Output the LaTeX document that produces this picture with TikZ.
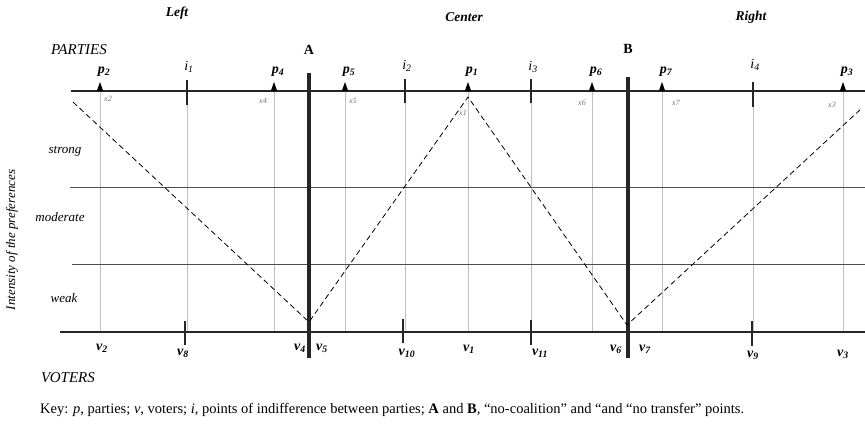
\documentclass[tikz,border=0pt]{standalone}
\usepackage{fontspec}
\setmainfont{Liberation Serif}
\begin{document}
\begin{tikzpicture}[x=1pt,y=-1pt,
  axisline/.style={line width=2.2pt, black!85},
  barrier/.style={line width=3.2pt, black!85},
  tickline/.style={line width=1.8pt, black!85},
  guide/.style={black!25, line width=0.5pt},
  level/.style={black!70, line width=0.8pt},
  pref/.style={dash pattern=on 5.5pt off 3.5pt, line width=0.8pt},
  partytri/.style={fill=black},
  head/.style={font=\fontsize{13.5}{15}\selectfont\bfseries\itshape},
  plab/.style={font=\fontsize{14}{15}\selectfont\bfseries\itshape, inner sep=0pt},
  ilab/.style={font=\fontsize{14}{15}\selectfont\itshape, inner sep=0pt},
  xlab/.style={font=\fontsize{8}{9}\selectfont\itshape, text=black!55, inner sep=0pt},
  side/.style={font=\fontsize{13}{15}\selectfont\itshape, inner sep=0pt},
  plain/.style={font=\fontsize{14.5}{16}\selectfont, inner sep=0pt}
]
\useasboundingbox (0,0) rectangle (865,426);

% positions
\foreach \n/\x in {p2/100, i1/187, p4/274, p5/345, i2/405, p1/468, i3/531, p6/592, p7/662, i4/753, p3/843} {
  \coordinate (t\n) at (\x,91);
  \coordinate (b\n) at (\x,332);
}

% headings
\node[head] (left) at (177,13) {Left};
\node[head] (center) at (464,17) {Center};
\node[head] (right) at (751,17) {Right};
\node[side, font=\fontsize{15}{16}\selectfont\itshape] (parties) at (79,50) {PARTIES};
\node[side, font=\fontsize{15}{16}\selectfont\itshape] (voters) at (68,378) {VOTERS};
\node[plain, font=\fontsize{14}{15}\selectfont\bfseries] (labA) at (309,50) {A};
\node[plain, font=\fontsize{14}{15}\selectfont\bfseries] (labB) at (628,49) {B};

% guides
\foreach \n in {p2,i1,p4,p5,i2,p1,i3,p6,p7,i4,p3} {
  \draw[guide] (t\n) -- (b\n);
}

% levels
\coordinate (l1a) at (70,187);  \coordinate (l1b) at (865,187);
\coordinate (l2a) at (72,264);  \coordinate (l2b) at (865,264);
\draw[level] (l1a) -- (l1b);
\draw[level] (l2a) -- (l2b);

% axes
\coordinate (topL) at (71,91);  \coordinate (topR) at (865,91);
\coordinate (botL) at (60,332); \coordinate (botR) at (865,332);
\draw[axisline] (topL) -- (topR);
\draw[axisline] (botL) -- (botR);

% barriers A and B
\coordinate (Atop) at (309,73); \coordinate (Abot) at (309,358);
\coordinate (Btop) at (628,77); \coordinate (Bbot) at (628,358);
\draw[barrier] (Atop) -- (Abot);
\draw[barrier] (Btop) -- (Bbot);

% indifference ticks (top)
\draw[tickline] ([yshift=11pt]ti1) -- ([yshift=-14pt]ti1);
\draw[tickline] ([yshift=12pt]ti2) -- ([yshift=-12pt]ti2);
\draw[tickline] ([yshift=12pt]ti3) -- ([yshift=-12pt]ti3);
\draw[tickline] ([yshift=9pt]ti4) -- ([yshift=-16pt]ti4);

% voter ticks (bottom)
\coordinate (v8) at (185,332); \coordinate (v10) at (403,332);
\coordinate (v11) at (531,332); \coordinate (v9) at (752,332);
\draw[tickline] ([yshift=11pt]v8) -- ([yshift=-13pt]v8);
\draw[tickline] ([yshift=13pt]v10) -- ([yshift=-11pt]v10);
\draw[tickline] ([yshift=12pt]v11) -- ([yshift=-13pt]v11);
\draw[tickline] ([yshift=11pt]v9) -- ([yshift=-14pt]v9);

% party triangles
\foreach \n in {p2,p4,p5,p1,p6,p7,p3} {
  \fill[partytri] ([xshift=-3.2pt]t\n) -- ([yshift=9pt]t\n) -- ([xshift=3.2pt]t\n) -- cycle;
}

% preference lines
\coordinate (d1) at (73,102);
\coordinate (dA) at (309,322);
\coordinate (dP) at (468,97);
\coordinate (dB) at (627,325);
\coordinate (d5) at (862,108);
\draw[pref] (d1) -- (dA) -- (dP) -- (dB) -- (d5);

% top labels
\node[plab] (Lp2) at (104,72) {p\textsubscript{2}};
\node[ilab] (Li1) at (189,67) {i\textsubscript{1}};
\node[plab] (Lp4) at (278,72) {p\textsubscript{4}};
\node[plab] (Lp5) at (349,72) {p\textsubscript{5}};
\node[ilab] (Li2) at (407,66) {i\textsubscript{2}};
\node[plab] (Lp1) at (472,72) {p\textsubscript{1}};
\node[ilab] (Li3) at (533,67) {i\textsubscript{3}};
\node[plab] (Lp6) at (596,72) {p\textsubscript{6}};
\node[plab] (Lp7) at (666,72) {p\textsubscript{7}};
\node[ilab] (Li4) at (755,65) {i\textsubscript{4}};
\node[plab] (Lp3) at (847,72) {p\textsubscript{3}};

% x labels
\node[xlab] (x2) at (108,99) {x2};
\node[xlab] (x4) at (263,101) {x4};
\node[xlab] (x5) at (353,101) {x5};
\node[xlab] (x1) at (463,113) {x1};
\node[xlab] (x6) at (582,103) {x6};
\node[xlab] (x7) at (676,103) {x7};
\node[xlab] (x3) at (832,105) {x3};

% level labels
\node[side] (strong) at (65,151) {strong};
\node[side] (moderate) at (60,217) {moderate};
\node[side] (weak) at (64,298) {weak};
\node[side, rotate=90] (intensity) at (12,240) {Intensity of the preferences};

% voter labels
\node[plab] (Lv2) at (102,348) {v\textsubscript{2}};
\node[plab] (Lv8) at (183,353) {v\textsubscript{8}};
\node[plab] (Lv4) at (300,348) {v\textsubscript{4}};
\node[plab] (Lv5) at (322,348) {v\textsubscript{5}};
\node[plab] (Lv10) at (407,353) {v\textsubscript{10}};
\node[plab] (Lv1) at (469,349) {v\textsubscript{1}};
\node[plab] (Lv11) at (540,353) {v\textsubscript{11}};
\node[plab] (Lv6) at (616,349) {v\textsubscript{6}};
\node[plab] (Lv7) at (645,349) {v\textsubscript{7}};
\node[plab] (Lv9) at (753,355) {v\textsubscript{9}};
\node[plab] (Lv3) at (843,354) {v\textsubscript{3}};

% key
\node[plain, anchor=west] (key) at (40,410) {Key: \textit{p}, parties; \textit{v}, voters; \textit{i}, points of indifference between parties; \textbf{A} and \textbf{B}, “no-coalition” and “and “no transfer” points.};
\end{tikzpicture}
\end{document}
